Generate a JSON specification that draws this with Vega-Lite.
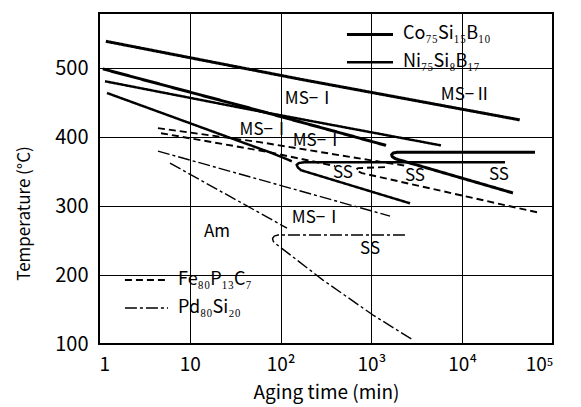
{
  "$schema": "https://vega.github.io/schema/vega-lite/v6.json",
  "width": 454,
  "height": 331,
  "autosize": {"type": "none"},
  "padding": {"left": 99, "top": 13, "right": 28, "bottom": 63},
  "background": "white",
  "config": {
    "view": {"stroke": "black", "strokeWidth": 2},
    "font": "Noto Sans CJK JP",
    "axis": {
      "labelColor": "black",
      "titleColor": "black",
      "titleFontWeight": "normal",
      "gridColor": "black",
      "gridOpacity": 1,
      "gridWidth": 1,
      "domain": false,
      "tickColor": "black",
      "labelFont": "Noto Sans CJK JP",
      "titleFont": "Noto Sans CJK JP"
    },
    "text": {"font": "Noto Sans CJK JP", "color": "black"}
  },
  "datasets": {
    "curves": [
      {"alloy": "Co", "curve": "C1", "i": 0, "t": 1.19, "T": 539},
      {"alloy": "Co", "curve": "C1", "i": 1, "t": 164, "T": 484},
      {"alloy": "Co", "curve": "C1", "i": 2, "t": 43000, "T": 425},
      {"alloy": "Co", "curve": "C2", "i": 0, "t": 1.1, "T": 499},
      {"alloy": "Co", "curve": "C2", "i": 1, "t": 46, "T": 442},
      {"alloy": "Co", "curve": "C2", "i": 2, "t": 1450, "T": 388},
      {"alloy": "Co", "curve": "C3", "i": 0, "t": 63400, "T": 378},
      {"alloy": "Co", "curve": "C3", "i": 1, "t": 1914, "T": 378},
      {"alloy": "Co", "curve": "C3", "i": 2, "t": 1740, "T": 377},
      {"alloy": "Co", "curve": "C3", "i": 3, "t": 1670, "T": 374.5},
      {"alloy": "Co", "curve": "C3", "i": 4, "t": 1700, "T": 371.5},
      {"alloy": "Co", "curve": "C3", "i": 5, "t": 1850, "T": 368.5},
      {"alloy": "Co", "curve": "C3", "i": 6, "t": 36250, "T": 319},
      {"alloy": "Ni", "curve": "N1", "i": 0, "t": 1.165, "T": 481},
      {"alloy": "Ni", "curve": "N1", "i": 1, "t": 46, "T": 440},
      {"alloy": "Ni", "curve": "N1", "i": 2, "t": 5840, "T": 388},
      {"alloy": "Ni", "curve": "N2", "i": 0, "t": 1.225, "T": 464},
      {"alloy": "Ni", "curve": "N2", "i": 1, "t": 76, "T": 378},
      {"alloy": "Ni", "curve": "N2", "i": 2, "t": 133, "T": 365},
      {"alloy": "Ni", "curve": "N3", "i": 0, "t": 29600, "T": 363.7},
      {"alloy": "Ni", "curve": "N3", "i": 1, "t": 186, "T": 363.7},
      {"alloy": "Ni", "curve": "N3", "i": 2, "t": 160, "T": 362.5},
      {"alloy": "Ni", "curve": "N3", "i": 3, "t": 150, "T": 360},
      {"alloy": "Ni", "curve": "N3", "i": 4, "t": 155, "T": 356},
      {"alloy": "Ni", "curve": "N3", "i": 5, "t": 168, "T": 352},
      {"alloy": "Ni", "curve": "N3", "i": 6, "t": 2663, "T": 304},
      {"alloy": "Fe", "curve": "F1", "i": 0, "t": 4.46, "T": 413},
      {"alloy": "Fe", "curve": "F1", "i": 1, "t": 59, "T": 392.7},
      {"alloy": "Fe", "curve": "F1", "i": 2, "t": 965, "T": 366.6},
      {"alloy": "Fe", "curve": "F1", "i": 3, "t": 2530, "T": 358},
      {"alloy": "Fe", "curve": "F2", "i": 0, "t": 4.82, "T": 405.7},
      {"alloy": "Fe", "curve": "F2", "i": 1, "t": 76, "T": 378},
      {"alloy": "Fe", "curve": "F2", "i": 2, "t": 397, "T": 358},
      {"alloy": "Fe", "curve": "F3", "i": 0, "t": 1412, "T": 356.5},
      {"alloy": "Fe", "curve": "F3", "i": 1, "t": 711, "T": 355},
      {"alloy": "Fe", "curve": "F3", "i": 2, "t": 676, "T": 352},
      {"alloy": "Fe", "curve": "F3", "i": 3, "t": 788, "T": 347.8},
      {"alloy": "Fe", "curve": "F3", "i": 4, "t": 71900, "T": 290},
      {"alloy": "Pd", "curve": "P1", "i": 0, "t": 4.46, "T": 379.7},
      {"alloy": "Pd", "curve": "P1", "i": 1, "t": 1603, "T": 285.5},
      {"alloy": "Pd", "curve": "P2", "i": 0, "t": 6.05, "T": 362.3},
      {"alloy": "Pd", "curve": "P2", "i": 1, "t": 117.6, "T": 268},
      {"alloy": "Pd", "curve": "P3", "i": 0, "t": 2344, "T": 258},
      {"alloy": "Pd", "curve": "P3", "i": 1, "t": 93.6, "T": 258},
      {"alloy": "Pd", "curve": "P3", "i": 2, "t": 85, "T": 256.5},
      {"alloy": "Pd", "curve": "P3", "i": 3, "t": 81.5, "T": 253},
      {"alloy": "Pd", "curve": "P3", "i": 4, "t": 83, "T": 249},
      {"alloy": "Pd", "curve": "P3", "i": 5, "t": 86.7, "T": 246.3},
      {"alloy": "Pd", "curve": "P3", "i": 6, "t": 293, "T": 192.7},
      {"alloy": "Pd", "curve": "P3", "i": 7, "t": 1041, "T": 142},
      {"alloy": "Pd", "curve": "P3", "i": 8, "t": 2872, "T": 105.8}
    ],
    "labels": [
      {"label": "MS−Ⅱ", "t": 11020, "T": 461},
      {"label": "MS−Ⅰ", "t": 211, "T": 455},
      {"label": "MS−Ⅰ", "t": 67, "T": 410},
      {"label": "MS−Ⅰ", "t": 258, "T": 394},
      {"label": "SS", "t": 486, "T": 348},
      {"label": "SS", "t": 3020, "T": 343.4},
      {"label": "SS", "t": 25400, "T": 345},
      {"label": "Am", "t": 19.9, "T": 262},
      {"label": "MS−Ⅰ", "t": 252, "T": 282.6},
      {"label": "SS", "t": 966, "T": 237.7}
    ],
    "legend": [
      {"alloy": "Co", "name": "Co₇₅Si₁₅B₁₀", "t": 538, "t2": 1730, "tl": 2228, "T": 549},
      {"alloy": "Ni", "name": "Ni₇₅Si₈B₁₇", "t": 538, "t2": 1730, "tl": 2228, "T": 508.7},
      {"alloy": "Fe", "name": "Fe₈₀P₁₃C₇", "t": 1.93, "t2": 5.75, "tl": 7.41, "T": 192.8},
      {"alloy": "Pd", "name": "Pd₈₀Si₂₀", "t": 1.93, "t2": 5.75, "tl": 7.41, "T": 152.2}
    ]
  },
  "layer": [
    {
      "data": {"name": "curves"},
      "mark": {"type": "line", "color": "black", "interpolate": "linear", "strokeJoin": "round", "strokeCap": "butt"},
      "encoding": {
        "x": {
          "field": "t",
          "type": "quantitative",
          "scale": {"type": "log", "domain": [1, 100000], "nice": false},
          "axis": {
            "title": "Aging time (min)",
            "titleFontSize": 19,
            "titlePadding": 9,
            "labelFontSize": 19,
            "labelPadding": 11,
            "ticks": false,
            "grid": true,
            "values": [1, 10, 100, 1000, 10000, 100000],
            "labelExpr": "datum.value == 1 ? '1' : datum.value == 10 ? '10' : datum.value == 100 ? '10²' : datum.value == 1000 ? '10³' : datum.value == 10000 ? '10⁴' : '10⁵'"
          }
        },
        "y": {
          "field": "T",
          "type": "quantitative",
          "scale": {"domain": [100, 580], "nice": false},
          "axis": {
            "title": "Temperature (°C)",
            "titleFontSize": 17,
            "titleAngle": -90,
            "titleX": -75,
            "titleY": 200,
            "titleAlign": "center",
            "titleBaseline": "middle",
            "labelFontSize": 20,
            "labelPadding": 18,
            "values": [100, 150, 200, 250, 300, 350, 400, 450, 500, 550],
            "labelExpr": "datum.value % 100 == 0 ? datum.label : ''",
            "gridOpacity": {"condition": {"test": "datum.value % 100 == 0", "value": 1}, "value": 0},
            "ticks": true,
            "tickSize": -7,
            "tickWidth": 1
          }
        },
        "detail": {"field": "curve"},
        "order": {"field": "i", "type": "quantitative"},
        "strokeDash": {
          "field": "alloy",
          "type": "nominal",
          "scale": {"domain": ["Co", "Ni", "Fe", "Pd"], "range": [[1, 0], [1, 0], [7, 4], [12, 3, 3, 3]]},
          "legend": null
        },
        "strokeWidth": {
          "field": "alloy",
          "type": "nominal",
          "scale": {"domain": ["Co", "Ni", "Fe", "Pd"], "range": [3, 1.4, 1.7, 1.8]},
          "legend": null
        }
      }
    },
    {
      "data": {"name": "legend"},
      "mark": {"type": "rule", "color": "black"},
      "encoding": {
        "x": {"field": "t", "type": "quantitative"},
        "x2": {"field": "t2"},
        "y": {"field": "T", "type": "quantitative"},
        "strokeDash": {"field": "alloy", "type": "nominal", "legend": null},
        "strokeWidth": {"field": "alloy", "type": "nominal", "legend": null}
      }
    },
    {
      "data": {"name": "legend"},
      "mark": {"type": "text", "align": "left", "baseline": "middle", "fontSize": 18},
      "encoding": {
        "x": {"field": "tl", "type": "quantitative"},
        "y": {"field": "T", "type": "quantitative"},
        "text": {"field": "name"}
      }
    },
    {
      "data": {"name": "labels"},
      "mark": {"type": "text", "align": "center", "baseline": "middle", "fontSize": 17},
      "encoding": {
        "x": {"field": "t", "type": "quantitative"},
        "y": {"field": "T", "type": "quantitative"},
        "text": {"field": "label"}
      }
    }
  ]
}
